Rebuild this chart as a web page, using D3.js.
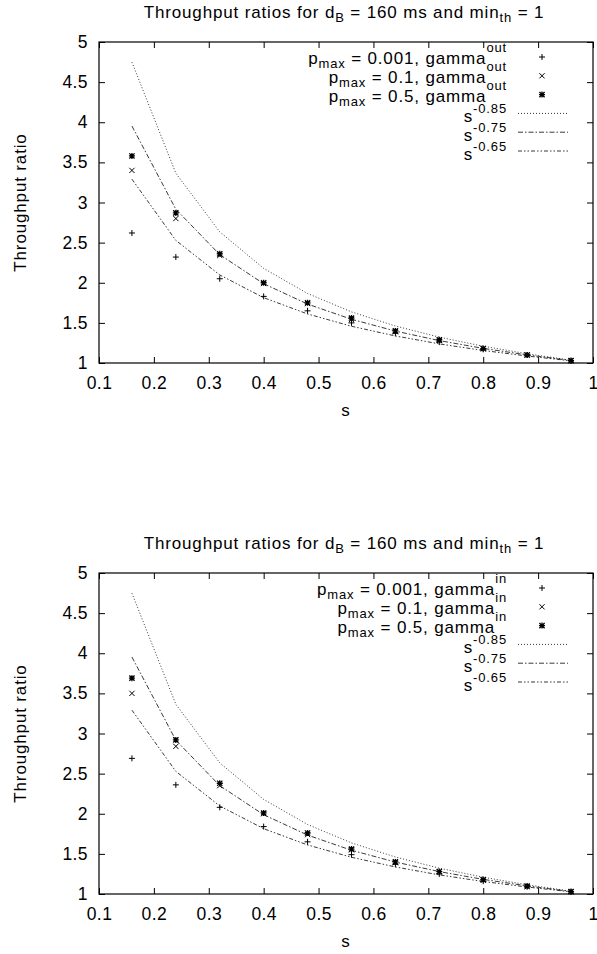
<!DOCTYPE html>
<html>
<head>
<meta charset="utf-8">
<script src="https://cdn.jsdelivr.net/npm/d3@7"></script>
<style>
  html, body { margin: 0; padding: 0; background: #fff; }
  svg text { font-family: "Liberation Sans", Arial, Helvetica, sans-serif; fill: #000; letter-spacing: 0.85px; }
  svg .tick text { letter-spacing: 0.4px; }
</style>
</head>
<body>
<svg id="chart" width="597" height="954"></svg>
<script>
// Sample points of s
const sValues = [0.16, 0.24, 0.32, 0.40, 0.48, 0.56, 0.64, 0.72, 0.80, 0.88, 0.96];

// Measured throughput ratios, gamma_out
const outPmax0001 = [2.62, 2.32, 2.05, 1.83, 1.65, 1.50, 1.37, 1.26, 1.17, 1.10, 1.025];
const outPmax01   = [3.40, 2.80, 2.34, 1.99, 1.74, 1.54, 1.39, 1.28, 1.18, 1.10, 1.03];
const outPmax05   = [3.58, 2.87, 2.36, 2.00, 1.75, 1.56, 1.40, 1.29, 1.18, 1.10, 1.03];

// Measured throughput ratios, gamma_in
const inPmax0001 = [2.69, 2.36, 2.08, 1.84, 1.65, 1.49, 1.37, 1.25, 1.16, 1.09, 1.025];
const inPmax01   = [3.50, 2.84, 2.35, 2.00, 1.74, 1.55, 1.39, 1.28, 1.17, 1.09, 1.03];
const inPmax05   = [3.69, 2.92, 2.38, 2.01, 1.76, 1.56, 1.40, 1.28, 1.18, 1.10, 1.03];

// Reference curves s^-0.85, s^-0.75, s^-0.65 at the sample points
const powM085 = [4.748, 3.364, 2.634, 2.179, 1.866, 1.637, 1.461, 1.322, 1.209, 1.115, 1.035];
const powM075 = [3.953, 2.916, 2.350, 1.988, 1.734, 1.545, 1.398, 1.279, 1.182, 1.101, 1.031];
const powM065 = [3.291, 2.528, 2.097, 1.814, 1.611, 1.458, 1.337, 1.238, 1.156, 1.087, 1.027];

// Axis ticks
const xTicks = [0.1, 0.2, 0.3, 0.4, 0.5, 0.6, 0.7, 0.8, 0.9, 1];
const xTickLabels = ["0.1", "0.2", "0.3", "0.4", "0.5", "0.6", "0.7", "0.8", "0.9", "1"];
const yTicks = [1, 1.5, 2, 2.5, 3, 3.5, 4, 4.5, 5];
const yTickLabels = ["1", "1.5", "2", "2.5", "3", "3.5", "4", "4.5", "5"];

const pmaxLabels = ["0.001", "0.1", "0.5"];
const exponents = ["-0.85", "-0.75", "-0.65"];

const svg = d3.select("#chart");

const FS = 17, SUBFS = 13;
const left = 99, right = 593, plotH = 321;
const x = d3.scaleLinear().domain([0.1, 1]).range([left, right]);

const markerPaths = {
  plus:  "M-3,0H3M0,-3V3",
  cross: "M-2.6,-2.6L2.6,2.6M-2.6,2.6L2.6,-2.6",
  star:  "M-3,0H3M0,-3V3M-2.6,-2.6L2.6,2.6M-2.6,2.6L2.6,-2.6"
};
const lineDashes = ["1,2", "5,2,1.5,2", "4,2,1.5,2,1.5,2"];

function drawPanel(top, gammaTag, pointSets) {
  const g = svg.append("g");
  const y = d3.scaleLinear().domain([1, 5]).range([top + plotH, top]);

  // title
  const title = g.append("text")
    .attr("x", (left + right) / 2 - 2).attr("y", top - 24)
    .attr("text-anchor", "middle").attr("font-size", FS);
  title.append("tspan").text("Throughput ratios for d");
  title.append("tspan").attr("font-size", SUBFS).attr("dy", 4).text("B");
  title.append("tspan").attr("dy", -4).text(" = 160 ms and min");
  title.append("tspan").attr("font-size", SUBFS).attr("dy", 4).text("th");
  title.append("tspan").attr("dy", -4).text(" = 1");

  // axes with inward ticks on all four sides
  const xb = d3.axisBottom(x).tickValues(xTicks).tickSize(-6).tickFormat((d, i) => xTickLabels[i]).tickPadding(13.5);
  const xt = d3.axisTop(x).tickValues(xTicks).tickSize(-6).tickFormat("");
  const yl = d3.axisLeft(y).tickValues(yTicks).tickSize(-6).tickFormat((d, i) => yTickLabels[i]).tickPadding(11);
  const yr = d3.axisRight(y).tickValues(yTicks).tickSize(-6).tickFormat("");

  const axes = [
    g.append("g").attr("transform", `translate(0,${top + plotH})`).call(xb),
    g.append("g").attr("transform", `translate(0,${top})`).call(xt),
    g.append("g").attr("transform", `translate(${left},0)`).call(yl),
    g.append("g").attr("transform", `translate(${right},0)`).call(yr)
  ];
  axes.forEach(a => {
    a.select(".domain").remove();
    a.selectAll(".tick line").attr("stroke", "#000").attr("stroke-width", 1);
    a.selectAll(".tick text").attr("font-size", 17.5)
      .attr("font-family", "Liberation Sans, Arial, sans-serif").attr("fill", "#000");
  });
  // frame
  g.append("rect").attr("x", left).attr("y", top).attr("width", right - left).attr("height", plotH)
    .attr("fill", "none").attr("stroke", "#000").attr("stroke-width", 1.2);

  // axis labels
  g.append("text").attr("transform", `translate(25.5,${top + plotH / 2}) rotate(-90)`)
    .attr("text-anchor", "middle").attr("font-size", FS).text("Throughput ratio");
  g.append("text").attr("x", (left + right) / 2).attr("y", top + plotH + 53)
    .attr("text-anchor", "middle").attr("font-size", FS).text("s");

  // reference curves
  const lineGen = d3.line().x(d => x(d[0])).y(d => y(d[1]));
  [powM085, powM075, powM065].forEach((vals, i) => {
    g.append("path").datum(sValues.map((s, j) => [s, vals[j]]))
      .attr("d", lineGen).attr("fill", "none").attr("stroke", "#222")
      .attr("stroke-width", 0.9).attr("stroke-dasharray", lineDashes[i]);
  });

  // measured points
  const shapes = ["plus", "cross", "star"];
  pointSets.forEach((vals, i) => {
    g.append("g").selectAll("path").data(sValues.map((s, j) => [s, vals[j]])).join("path")
      .attr("transform", d => `translate(${x(d[0])},${y(d[1])})`)
      .attr("d", markerPaths[shapes[i]]).attr("fill", "none").attr("stroke", "#000")
      .attr("stroke-width", i === 2 ? 1.3 : 1);
  });

  // legend
  const textRight = 507, sampleL = 518, sampleR = 568, markX = 542;
  const rowY = i => top + 15 + i * 18.8;
  pmaxLabels.forEach((lab, i) => {
    const t = g.append("text").attr("x", textRight).attr("y", rowY(i) + 7)
      .attr("text-anchor", "end").attr("font-size", FS);
    t.append("tspan").text("p");
    t.append("tspan").attr("font-size", SUBFS).attr("dy", 4).text("max");
    t.append("tspan").attr("dy", -4).text(` = ${lab}, gamma`);
    t.append("tspan").attr("font-size", SUBFS).attr("dy", -12).text(gammaTag);
    g.append("path").attr("transform", `translate(${markX},${rowY(i)})`)
      .attr("d", markerPaths[shapes[i]]).attr("fill", "none").attr("stroke", "#000")
      .attr("stroke-width", i === 2 ? 1.3 : 1);
  });
  exponents.forEach((ex, k) => {
    const i = k + 3;
    const t = g.append("text").attr("x", textRight).attr("y", rowY(i) + 9)
      .attr("text-anchor", "end").attr("font-size", FS);
    t.append("tspan").text("s");
    t.append("tspan").attr("font-size", SUBFS).attr("dy", -9).text(ex);
    g.append("line").attr("x1", sampleL).attr("x2", sampleR).attr("y1", rowY(i)).attr("y2", rowY(i))
      .attr("stroke", "#222").attr("stroke-width", 0.9).attr("stroke-dasharray", lineDashes[k]);
  });
}

drawPanel(42, "out", [outPmax0001, outPmax01, outPmax05]);
drawPanel(573, "in", [inPmax0001, inPmax01, inPmax05]);
</script>
</body>
</html>
